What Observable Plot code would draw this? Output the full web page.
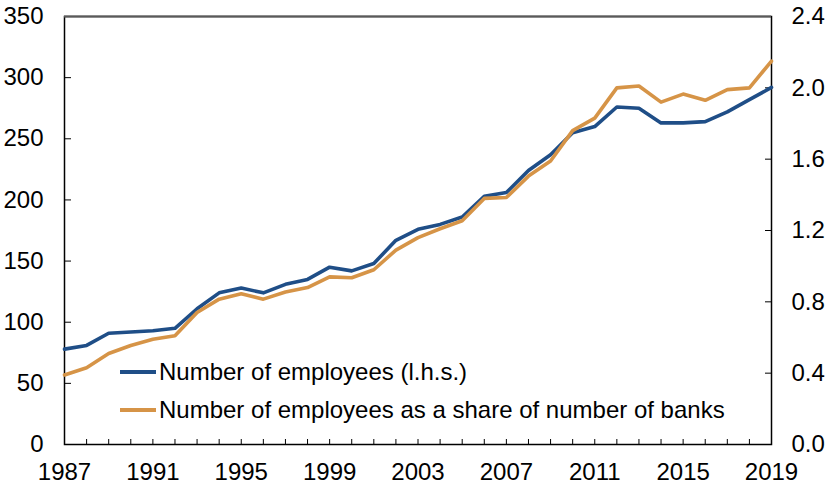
<!DOCTYPE html>
<html>
<head>
<meta charset="utf-8">
<script src="https://cdn.jsdelivr.net/npm/d3@7"></script>
<script src="https://cdn.jsdelivr.net/npm/@observablehq/plot@0.6"></script>
<style>
  html, body { margin: 0; padding: 0; background: #fff; }
  #wrap { position: relative; width: 827px; height: 486px; font-family: "Liberation Sans", Arial, sans-serif; }
  .leg { position: absolute; left: 120px; display: flex; align-items: center; font-size: 24px; color: #000; white-space: nowrap; }
  .leg .sw { width: 36px; height: 4px; margin-right: 3px; }
</style>
</head>
<body>
<div id="wrap"></div>
<script>
const years = d3.range(1987, 2020);
const employees = [78,81,91,92,93,95,111,124,128,124,131,135,145,142,148,167,176,180,186,203,206,224,237,255,260,276,275,263,263,264,272,282,292];
const share = [0.39,0.43,0.51,0.555,0.59,0.61,0.74,0.815,0.845,0.815,0.855,0.88,0.94,0.935,0.98,1.09,1.16,1.21,1.255,1.38,1.385,1.505,1.59,1.76,1.83,2.0,2.01,1.92,1.965,1.93,1.99,2.0,2.15];
const xTickLabels = [1987,1991,1995,1999,2003,2007,2011,2015,2019];
const leftTicks = [0,50,100,150,200,250,300,350];
const rightTicks = [0,0.4,0.8,1.2,1.6,2.0,2.4];
const seriesNames = ["Number of employees (l.h.s.)", "Number of employees as a share of number of banks"];
const colors = ["#1f4e87", "#d69447"];

const LMAX = 350, RMAX = 2.4;
const toLeft = v => v * LMAX / RMAX;

const data = years.map((y, i) => ({year: y, employees: employees[i], share: share[i]}));

const chart = Plot.plot({
  width: 827,
  height: 486,
  marginLeft: 64,
  marginRight: 56,
  marginTop: 16,
  marginBottom: 42,
  style: {fontFamily: "'Liberation Sans', Arial, sans-serif", fontSize: "24px", color: "#000", background: "#fff", overflow: "visible"},
  x: {domain: [1987, 2019], type: "linear"},
  y: {domain: [0, LMAX]},
  marks: [
    Plot.axisX(years, {anchor: "bottom", tickSize: -5, text: null, label: null, stroke: "#000"}),
    Plot.axisX(xTickLabels, {anchor: "bottom", tickSize: 0, tickPadding: 18, tickFormat: d => String(d), label: null, fontSize: 24}),
    Plot.axisY(leftTicks, {anchor: "left", tickSize: -7, tickPadding: 28, label: null, fontSize: 24, stroke: "#000"}),
    Plot.axisY(rightTicks.map(toLeft), {anchor: "right", tickSize: -7, tickPadding: 27, label: null, fontSize: 24, stroke: "#000",
      tickFormat: d => (d * RMAX / LMAX).toFixed(1)}),
    Plot.frame({stroke: "#000", strokeWidth: 1.5}),
    Plot.ruleY([LMAX], {stroke: "#5a5a5a", strokeWidth: 2}),
    Plot.line(data, {x: "year", y: "employees", stroke: colors[0], strokeWidth: 3.6}),
    Plot.line(data, {x: "year", y: d => toLeft(d.share), stroke: colors[1], strokeWidth: 3.6})
  ]
});

const wrap = document.getElementById("wrap");
wrap.appendChild(chart);

const legendTops = [358, 396];
seriesNames.forEach((name, i) => {
  const row = document.createElement("div");
  row.className = "leg";
  row.style.top = legendTops[i] + "px";
  const sw = document.createElement("span");
  sw.className = "sw";
  sw.style.background = colors[i];
  const t = document.createElement("span");
  t.textContent = name;
  row.appendChild(sw);
  row.appendChild(t);
  wrap.appendChild(row);
});
</script>
</body>
</html>
